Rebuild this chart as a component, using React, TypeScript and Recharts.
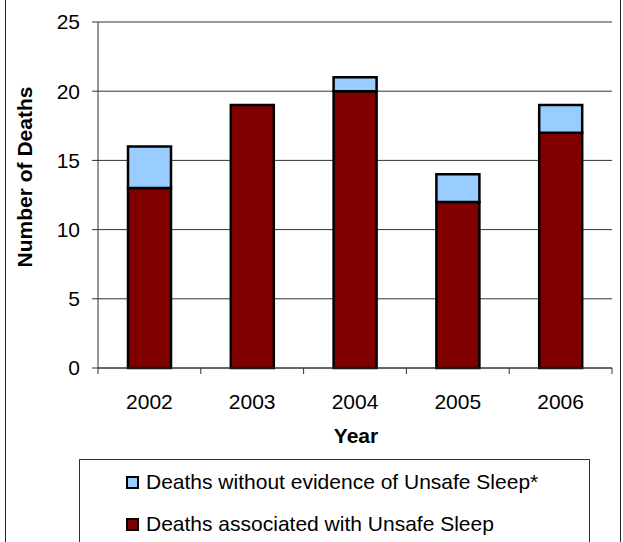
import { BarChart, Bar, XAxis, YAxis, CartesianGrid, Legend } from "recharts";

// values
const years = ["2002", "2003", "2004", "2005", "2006"];
const unsafeSleep = [13, 19, 20, 12, 17];
const noEvidence = [3, 0, 1, 2, 2];
const yTicks = [0, 5, 10, 15, 20, 25];

const data = years.map((year, i) => ({
  year,
  unsafe: unsafeSleep[i],
  other: noEvidence[i],
}));

const W = 623;
const H = 542;
const FONT = "'Liberation Sans', Arial, sans-serif";
const FS = 21;
const PLOT_LEFT = 98;
const PLOT_RIGHT = 612;
const BAND = (PLOT_RIGHT - PLOT_LEFT) / years.length;

const legendItems = [
  { label: "Deaths without evidence of Unsafe Sleep*", color: "#99CCFF" },
  { label: "Deaths associated with Unsafe Sleep", color: "#800000" },
];

function YearTick(props: any) {
  const { x, y, payload, index } = props;
  const left = x - BAND / 2;
  return (
    <g>
      <line x1={left} y1={y} x2={left} y2={y + 6} stroke="#333" />
      {index === years.length - 1 && (
        <line x1={x + BAND / 2} y1={y} x2={x + BAND / 2} y2={y + 6} stroke="#333" />
      )}
      <text
        x={x}
        y={y + 33}
        textAnchor="middle"
        dominantBaseline="central"
        fontSize={FS}
        fontFamily={FONT}
        fill="#000"
      >
        {payload.value}
      </text>
    </g>
  );
}

function LegendBox() {
  return (
    <div
      style={{
        position: "absolute",
        left: 79,
        top: 0,
        width: 511,
        height: 100,
        border: "1px solid #333",
        boxSizing: "border-box",
        fontFamily: FONT,
        fontSize: FS,
        color: "#000",
      }}
    >
      {legendItems.map((item, i) => (
        <div
          key={item.label}
          style={{
            position: "absolute",
            left: 46,
            top: 10 + i * 42,
            height: 24,
            display: "flex",
            alignItems: "center",
            whiteSpace: "nowrap",
          }}
        >
          <span
            style={{
              display: "inline-block",
              width: 13,
              height: 13,
              boxSizing: "border-box",
              background: item.color,
              border: "2px solid #000",
              marginRight: 7,
            }}
          />
          {item.label}
        </div>
      ))}
    </div>
  );
}

export default function App() {
  return (
    <div
      style={{
        position: "absolute",
        left: 0,
        top: 0,
        width: W,
        height: H,
        background: "#fff",
        overflow: "hidden",
      }}
    >
      <div style={{ position: "absolute", left: 5, top: 0, width: 1, height: H, background: "#222" }} />
      <div style={{ position: "absolute", left: 620, top: 0, width: 1, height: H, background: "#222" }} />
      <BarChart
        width={W}
        height={H}
        data={data}
        margin={{ top: 22, right: W - PLOT_RIGHT, left: 0, bottom: 0 }}
        barSize={43}
      >
        <CartesianGrid vertical={false} stroke="#333" strokeOpacity={1} />
        <XAxis
          dataKey="year"
          height={91}
          tickLine={false}
          tickSize={0}
          tickMargin={0}
          axisLine={{ stroke: "#333" }}
          tick={<YearTick />}
          interval={0}
          label={{
            content: () => (
              <text
                x={356}
                y={435}
                textAnchor="middle"
                dominantBaseline="central"
                fontSize={FS}
                fontWeight="bold"
                fontFamily={FONT}
                fill="#000"
              >
                Year
              </text>
            ),
          }}
        />
        <YAxis
          width={PLOT_LEFT}
          domain={[0, 25]}
          ticks={yTicks}
          interval={0}
          tickSize={6}
          tickMargin={12}
          tickLine={{ stroke: "#333" }}
          axisLine={{ stroke: "#333" }}
          tick={{ fontSize: FS, fontFamily: FONT, fill: "#000" }}
          label={{
            content: () => (
              <text
                x={24}
                y={177}
                transform="rotate(-90 24 177)"
                textAnchor="middle"
                dominantBaseline="central"
                fontSize={FS}
                fontWeight="bold"
                fontFamily={FONT}
                fill="#000"
              >
                Number of Deaths
              </text>
            ),
          }}
        />
        <Legend
          verticalAlign="bottom"
          height={83}
          wrapperStyle={{ left: 0, width: W }}
          content={() => <LegendBox />}
        />
        <Bar
          dataKey="unsafe"
          stackId="a"
          fill="#800000"
          stroke="#000"
          strokeWidth={2.5}
          isAnimationActive={false}
        />
        <Bar
          dataKey="other"
          stackId="a"
          fill="#99CCFF"
          stroke="#000"
          strokeWidth={2.5}
          isAnimationActive={false}
        />
      </BarChart>
    </div>
  );
}
